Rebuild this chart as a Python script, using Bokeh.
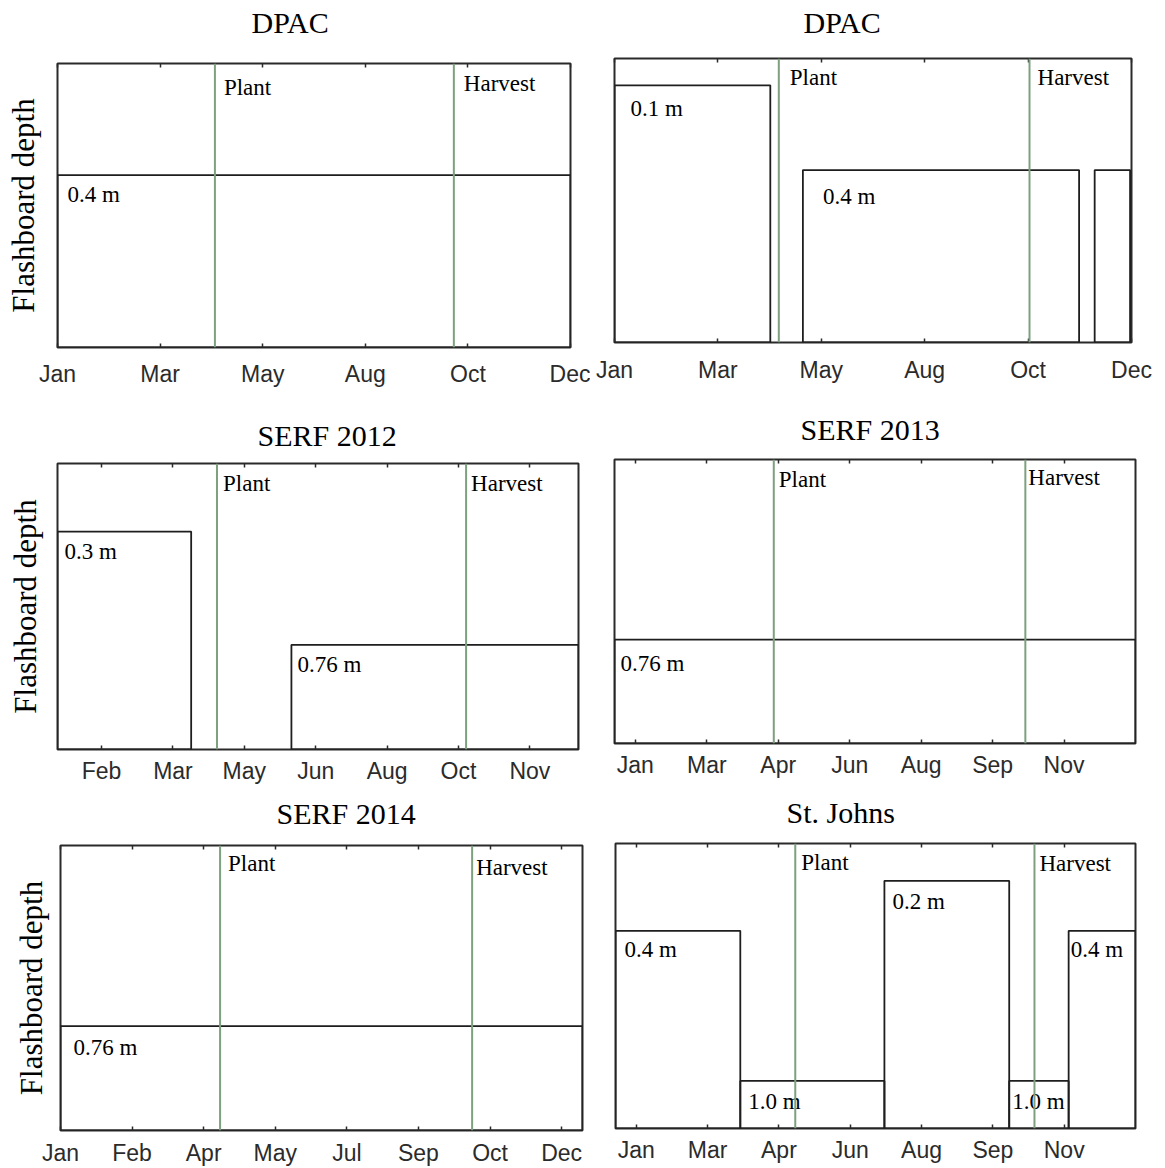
from bokeh.plotting import figure
from bokeh.layouts import column, row
from bokeh.models import Range1d, FixedTicker, LinearAxis, Span
from bokeh.core.properties import value
from bokeh.embed import file_html
from bokeh.resources import INLINE

# ---------------- data (x values are day of year) ----------------
titles = ["DPAC", "DPAC", "SERF 2012", "SERF 2013", "SERF 2014", "St. Johns"]

x_limits = [(1, 366), (1, 366), (12, 355), (1, 351), (1, 351), (1, 351)]

tick_days = [
    [1, 74, 147, 220, 293, 366],
    [1, 74, 147, 220, 293, 366],
    [41, 88, 135, 182, 229, 276, 323],
    [15, 63, 111, 159, 207, 255, 303],
    [1, 49, 97, 145, 193, 241, 289, 337],
    [15, 63, 111, 159, 207, 255, 303],
]
tick_labels = [
    ["Jan", "Mar", "May", "Aug", "Oct", "Dec"],
    ["Jan", "Mar", "May", "Aug", "Oct", "Dec"],
    ["Feb", "Mar", "May", "Jun", "Aug", "Oct", "Nov"],
    ["Jan", "Mar", "Apr", "Jun", "Aug", "Sep", "Nov"],
    ["Jan", "Feb", "Apr", "May", "Jul", "Sep", "Oct", "Dec"],
    ["Jan", "Mar", "Apr", "Jun", "Aug", "Sep", "Nov"],
]

plant_day = [113, 117, 117, 108, 108, 122]
harvest_day = [283, 294, 281, 277, 277, 283]

# flashboard periods: start day, end day, board depth (m)
board_start = [[1], [1, 134, 340], [12, 166], [1], [1], [1, 85, 182, 266, 306]]
board_end = [[366], [111, 329, 365], [100, 355], [351], [351], [85, 182, 266, 306, 351]]
board_depth = [[0.4], [0.1, 0.4, 0.4], [0.3, 0.76], [0.76], [0.76], [0.4, 1.0, 0.2, 1.0, 0.4]]
board_labelled = [[True], [True, True, False], [True, True], [True], [True],
                  [True, True, True, True, True]]

# depth axis extent per panel (top, bottom); depth grows downward
depth_limits = [(0.005, 1.01), (0.005, 1.01), (0.0235, 1.185),
                (0.0235, 1.185), (0.0235, 1.185), (0.051, 1.19)]

# ---------------- layout / styling ----------------
# border_left, frame_width, border_right, border_top, frame_height, border_bottom
frame_layout = [
    (57, 513, 20, 63, 284, 53),
    (24, 517, 34, 58, 284, 58),
    (57, 521, 20, 63, 286, 41),
    (16, 521, 30, 59, 284, 47),
    (60, 522, 18, 55, 285, 38),
    (15, 520, 30, 53, 285, 40),
]
HEAD_GAP = 12                                   # px between heading strip and frame
title_offset = [194, 189, 200, 186, 216, 171]   # px from frame left
title_middle = [22, 22, 35, 29, 23, 22]         # px from top of the cell
tick_standoff = [13, 14, 8, 8, 9, 8]
ylabel_standoff = [17, None, 15, None, 12, None]

depth_label_nudge = [
    [(10, 19)],
    [(16, 23), (20, 26), (0, 0)],
    [(7, 20), (6, 20)],
    [(6, 24)],
    [(13, 21)],
    [(9, 19), (8, 21), (8, 21), (3, 21), (2, 19)],
]
event_label_nudge = [
    [(9, 24), (10, 20)],
    [(11, 19), (8, 19)],
    [(6, 20), (5, 20)],
    [(5, 20), (3, 18)],
    [(8, 18), (4, 22)],
    [(6, 19), (5, 20)],
]

SERIF = "Liberation Serif"
SANS = "Liberation Sans"
FRAME_COLOR = "#2a2a2a"
BOARD_COLOR = "#1e1e1e"
EVENT_COLOR = "#7da07f"


def make_heading(i):
    """Thin strip above a panel carrying its heading; its frame lines up with the panel frame."""
    bl, fw, br, bt, fh, bb = frame_layout[i]
    h = bt - HEAD_GAP
    s = figure(frame_width=fw, frame_height=h, min_border=0,
               min_border_left=bl, min_border_right=br,
               min_border_top=0, min_border_bottom=0,
               x_range=Range1d(0, fw), y_range=Range1d(h, 0),
               x_axis_location=None, y_axis_location=None, title=None,
               output_backend="svg", toolbar_location=None, tools="")
    s.outline_line_color = None
    s.xgrid.visible = False
    s.ygrid.visible = False
    s.background_fill_color = "white"
    s.border_fill_color = "white"
    s.text(x=[title_offset[i]], y=[title_middle[i]], text=[titles[i]],
           text_font=value(SERIF), text_font_size="30px",
           text_baseline="middle", text_align="left", text_color="black")
    return s


def make_panel(i):
    x0, x1 = x_limits[i]
    top_d, bot_d = depth_limits[i]
    bl, fw, br, bt, fh, bb = frame_layout[i]
    left_col = ylabel_standoff[i] is not None

    p = figure(frame_width=fw, frame_height=fh,
               min_border_left=bl, min_border_right=br,
               min_border_top=HEAD_GAP, min_border_bottom=bb,
               x_range=Range1d(x0, x1), y_range=Range1d(bot_d, top_d),
               x_axis_location="below",
               y_axis_location="left" if left_col else None,
               title=None, output_backend="svg",
               toolbar_location=None, tools="")
    p.xgrid.visible = False
    p.ygrid.visible = False
    p.background_fill_color = "white"
    p.border_fill_color = "white"
    p.outline_line_color = FRAME_COLOR
    p.outline_line_width = 2

    overrides = {d: lab for d, lab in zip(tick_days[i], tick_labels[i])}
    xa = p.xaxis[0]
    xa.ticker = FixedTicker(ticks=tick_days[i])
    xa.major_label_overrides = overrides
    xa.major_tick_in = 4
    xa.major_tick_out = 0
    xa.major_tick_line_color = FRAME_COLOR
    xa.major_tick_line_width = 1.5
    xa.minor_tick_line_color = None
    xa.axis_line_color = None
    xa.major_label_standoff = tick_standoff[i]
    xa.major_label_text_font = SANS
    xa.major_label_text_font_size = "23px"
    xa.major_label_text_color = "#2b2b2b"

    top_axis = LinearAxis(ticker=FixedTicker(ticks=tick_days[i]),
                          major_tick_in=4, major_tick_out=0,
                          major_tick_line_color=FRAME_COLOR,
                          major_tick_line_width=1.5,
                          minor_tick_line_color=None, axis_line_color=None,
                          major_label_text_font_size="0px",
                          major_label_standoff=0)
    p.add_layout(top_axis, "above")

    if left_col:
        ya = p.yaxis[0]
        ya.ticker = FixedTicker(ticks=[])
        ya.axis_line_color = None
        ya.major_tick_line_color = None
        ya.minor_tick_line_color = None
        ya.major_tick_in = 0
        ya.major_tick_out = 0
        ya.major_label_standoff = 0
        ya.axis_label = "Flashboard depth"
        ya.axis_label_standoff = ylabel_standoff[i]
        ya.axis_label_text_font = SERIF
        ya.axis_label_text_font_size = "31px"
        ya.axis_label_text_font_style = "normal"
        ya.axis_label_text_color = "black"

    # flashboard periods drawn as open boxes standing on the bottom of the frame
    n = len(board_depth[i])
    p.quad(left=board_start[i], right=board_end[i], top=board_depth[i],
           bottom=[bot_d] * n, fill_color=None,
           line_color=BOARD_COLOR, line_width=1.8)

    # planting and harvest dates
    for day in (plant_day[i], harvest_day[i]):
        p.add_layout(Span(location=day, dimension="height",
                          line_color=EVENT_COLOR, line_width=2))

    # depth labels
    lx, ly, lt, ox, oy = [], [], [], [], []
    for s, d, show, (dx, dy) in zip(board_start[i], board_depth[i],
                                    board_labelled[i], depth_label_nudge[i]):
        if show:
            lx.append(s)
            ly.append(d)
            lt.append(f"{d} m")
            ox.append(dx)
            oy.append(dy)
    p.text(x=lx, y=ly, text=lt, x_offset=ox, y_offset=oy,
           text_font=value(SERIF), text_font_size="23px",
           text_baseline="middle", text_align="left", text_color="black")

    # event labels
    ev = event_label_nudge[i]
    p.text(x=[plant_day[i], harvest_day[i]], y=[top_d, top_d],
           text=["Plant", "Harvest"],
           x_offset=[ev[0][0], ev[1][0]], y_offset=[ev[0][1], ev[1][1]],
           text_font=value(SERIF), text_font_size="23px",
           text_baseline="middle", text_align="left", text_color="black")
    return p


cells = [column(make_heading(i), make_panel(i), spacing=0) for i in range(6)]
layout = column(row(cells[0], cells[1], spacing=0),
                row(cells[2], cells[3], spacing=0),
                row(cells[4], cells[5], spacing=0), spacing=0)

open("out.html", "w").write(file_html(layout, INLINE))
